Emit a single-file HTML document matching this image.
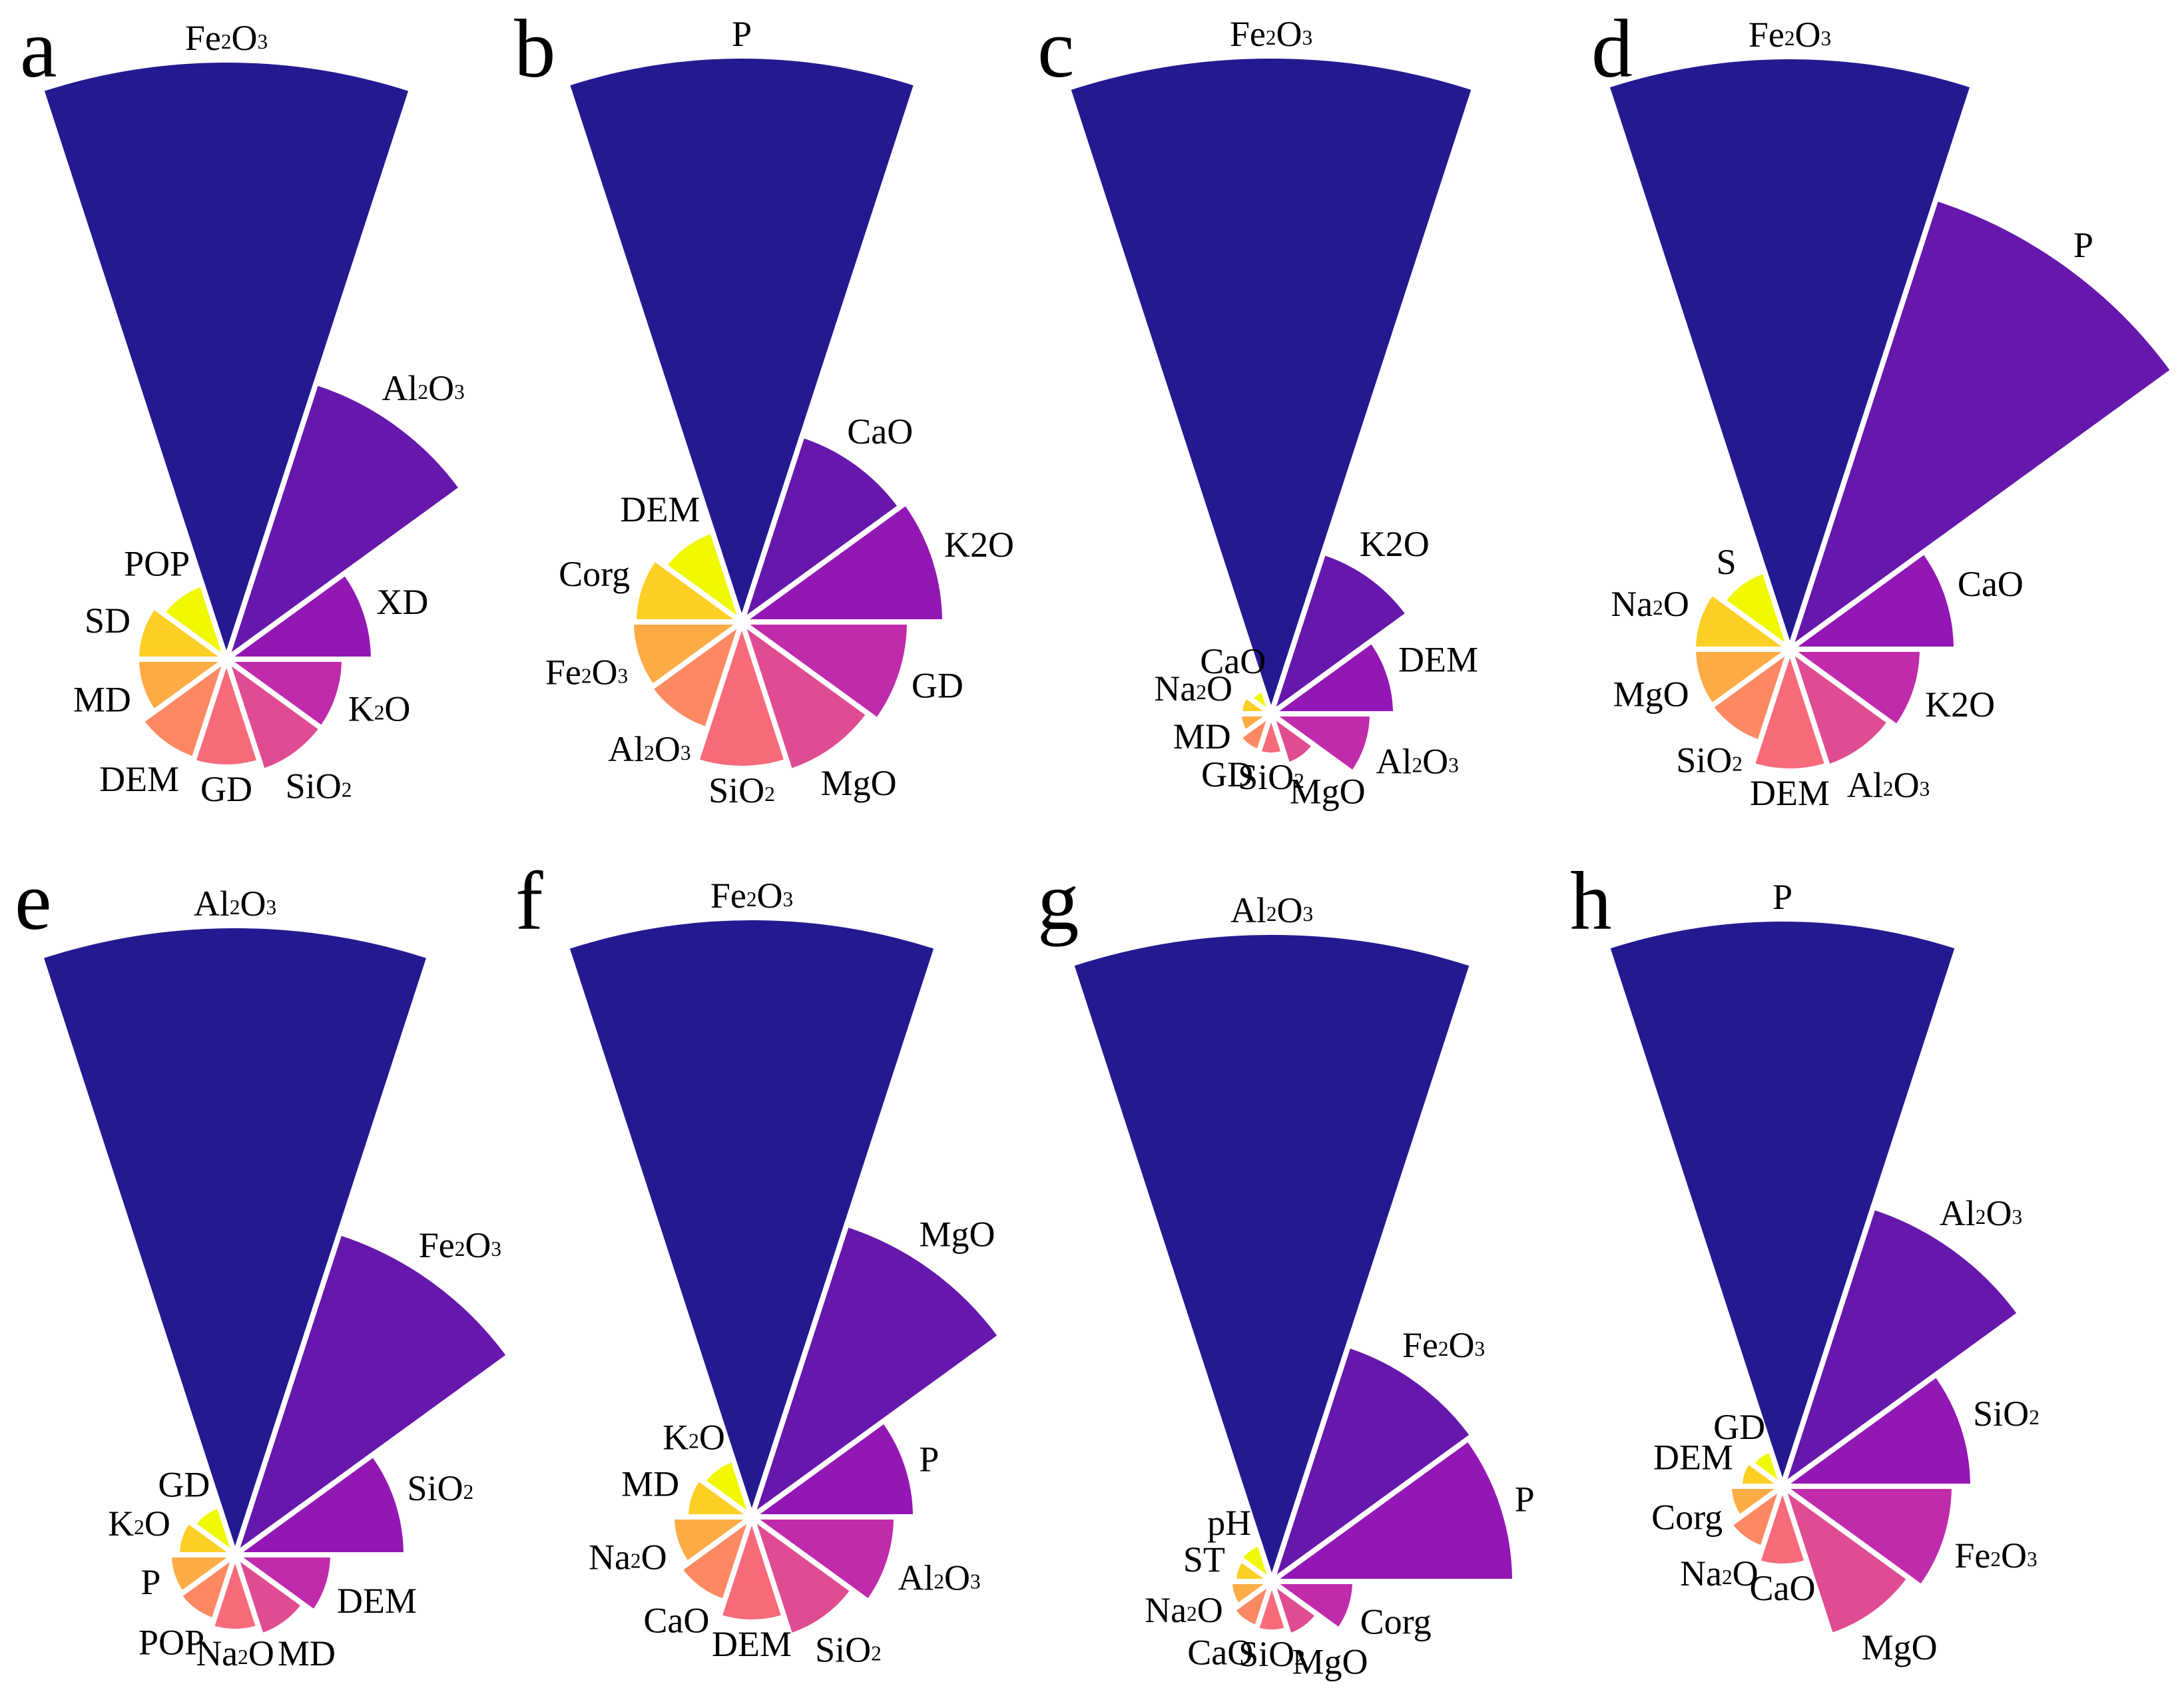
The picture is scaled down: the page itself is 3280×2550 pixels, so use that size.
<!DOCTYPE html>
<html><head><meta charset="utf-8">
<style>
html,body{margin:0;padding:0;background:#fff;}
svg{display:block;}
text{font-family:"Liberation Serif",serif;fill:#000;}
</style></head>
<body>
<svg id="chart" width="3280" height="2550" viewBox="0 0 3280 2550" xmlns="http://www.w3.org/2000/svg"></svg>
<script>
// ----- data (in radius units) -----
const panelLetters = ["a","b","c","d","e","f","g","h"];
const labelsA = ["Fe_2O_3","Al_2O_3","XD","K_2O","SiO_2","GD","DEM","MD","SD","POP"];
const valuesA = [900,437,221,177,177,162,158,135,135,119];
const labelsB = ["P","CaO","K2O","GD","MgO","SiO_2","Al_2O_3","Fe_2O_3","Corg","DEM"];
const valuesB = [850,295,305,252,236,220,170,166,162,144];
const labelsC = ["Fe_2O_3","K2O","DEM","Al_2O_3","MgO","SiO_2","GD","MD","Na_2O","CaO"];
const valuesC = [988,255,187,152,81,62,60,48,47,39];
const labelsD = ["Fe_2O_3","P","CaO","K2O","Al_2O_3","DEM","SiO_2","MgO","Na_2O","S"];
const valuesD = [890,712,250,199,186,183,147,145,145,124];
const labelsE = ["Al_2O_3","Fe_2O_3","SiO_2","DEM","MD","Na_2O","POP","P","K_2O","GD"];
const valuesE = [945,509,257,147,128,115,104,99,87,78];
const labelsF = ["Fe_2O_3","MgO","P","Al_2O_3","SiO_2","DEM","CaO","Na_2O","MD","K_2O"];
const valuesF = [900,462,246,217,188,158,134,120,99,91];
const labelsG = ["Al_2O_3","Fe_2O_3","P","Corg","MgO","SiO_2","CaO","Na_2O","ST","pH"];
const valuesG = [975,373,365,125,86,76,73,63,57,60];
const labelsH = ["P","Al_2O_3","SiO_2","Fe_2O_3","MgO","CaO","Na_2O","Corg","DEM","GD"];
const valuesH = [852,441,286,258,236,120,98,80,64,58];
const colors = ["#231a92","#6617ac","#9317b5","#c02bab","#e04c91","#f76a7a","#fd8963","#fdab45","#fecf24","#f0f900"];

// layout (not data)
const layout = [
  {cx:340, cy:990, lx:30, ly:115},
  {cx:1114,cy:934, lx:772, ly:115},
  {cx:1909,cy:1072,lx:1558,ly:115},
  {cx:2688,cy:975, lx:2390,ly:115},
  {cx:353, cy:2335,lx:22, ly:1395},
  {cx:1129,cy:2278,lx:774, ly:1395},
  {cx:1910,cy:2375,lx:1558,ly:1395},
  {cx:2677,cy:2232,lx:2358,ly:1395}
];
const allLabels = [labelsA,labelsB,labelsC,labelsD,labelsE,labelsF,labelsG,labelsH];
const allValues = [valuesA,valuesB,valuesC,valuesD,valuesE,valuesF,valuesG,valuesH];

const NS = "http://www.w3.org/2000/svg";
const svg = document.getElementById("chart");
const FS = 54;
function rScale(v){ return v; }
function angleScale(i,n){ return i*360/n; }
function polar(cx,cy,r,deg){ const a=deg*Math.PI/180; return [cx+r*Math.sin(a), cy-r*Math.cos(a)]; }

function addLabel(g, str, x, y, fs){
  const t = document.createElementNS(NS,"text");
  t.setAttribute("x",x); t.setAttribute("y",y);
  t.setAttribute("text-anchor","middle");
  t.setAttribute("dominant-baseline","central");
  t.setAttribute("font-size",fs);
  const parts = str.split(/(_\d)/);
  let prev = 0;
  parts.forEach(p=>{
    if(!p) return;
    const ts = document.createElementNS(NS,"tspan");
    let d;
    if(p[0]==="_"){ ts.textContent=p.slice(1); ts.setAttribute("font-size",fs*0.58); d=5; }
    else { ts.textContent=p; d=0; }
    ts.setAttribute("dy", d-prev); prev=d;
    t.appendChild(ts);
  });
  g.appendChild(t);
  return t;
}

allLabels.forEach((labels, p)=>{
  const L = layout[p], vals = allValues[p], n = labels.length;
  const g = document.createElementNS(NS,"g");
  
  
  svg.appendChild(g);
  const letter = document.createElementNS(NS,"text");
  letter.setAttribute("x",L.lx); letter.setAttribute("y",L.ly);
  letter.setAttribute("font-size",125);
  letter.textContent = panelLetters[p];
  
  
  g.appendChild(letter);
  labels.forEach((lab,i)=>{
    const r = rScale(vals[i]);
    const mid = angleScale(i,n), half = 180/n;
    const [x1,y1] = polar(L.cx,L.cy,r,mid-half);
    const [x2,y2] = polar(L.cx,L.cy,r,mid+half);
    const path = document.createElementNS(NS,"path");
    path.setAttribute("d",`M${L.cx},${L.cy} L${x1},${y1} A${r},${r} 0 0 1 ${x2},${y2} Z`);
    path.setAttribute("fill",colors[i]);
    path.setAttribute("stroke","#fff");
    path.setAttribute("stroke-width",8);
    path.setAttribute("stroke-linejoin","miter");
    
    
    g.appendChild(path);
  });
  labels.forEach((lab,i)=>{
    const r = rScale(vals[i]);
    const mid = angleScale(i,n);
    const t = addLabel(g, lab, 0, 0, FS);
    
    
    const bb = t.getBBox();
    const a = mid*Math.PI/180;
    const off = 14 + Math.abs(Math.sin(a))*bb.width/2 + Math.abs(Math.cos(a))*19;
    const [x,y] = polar(L.cx,L.cy,r+off,mid);
    t.setAttribute("x",x); t.setAttribute("y",y);
  });
});
</script>
</body></html>
